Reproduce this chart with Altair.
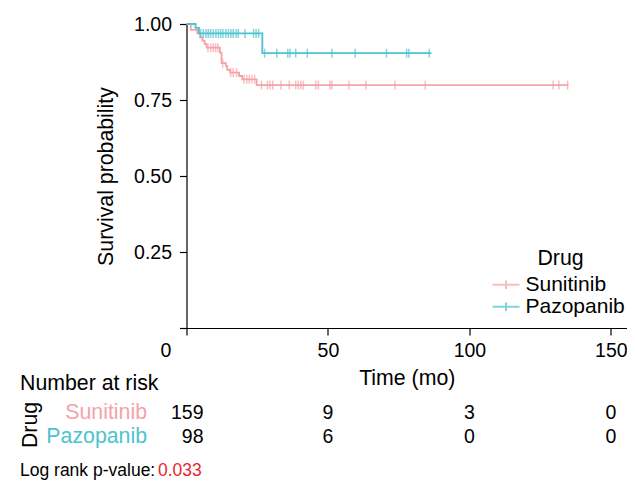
import altair as alt
import pandas as pd

# ---------------- data ----------------
groups = ["Sunitinib", "Pazopanib"]
colors = ["#F5A3A8", "#4DC3CE"]

suni_time = [0, 1.5, 3.8, 4.8, 5.6, 6.4, 7.1, 11.8, 12.4, 13.9, 14.4, 15.4, 18.6, 19.7, 24.8, 135.0]
suni_surv = [1.0, 0.981, 0.969, 0.956, 0.945, 0.934, 0.922, 0.906, 0.871, 0.862, 0.849, 0.840, 0.829, 0.818, 0.799, 0.799]
suni_cens = [7.6, 8.6, 9.5, 10.3, 11.1, 12.8, 15.6, 16.5, 17.7, 20.3, 21.3, 22.2, 23.1, 24.1,
             26.5, 28.6, 29.5, 30.5, 33.4, 36.3, 38.6, 39.5, 40.4, 41.3, 45.7, 46.6, 50.7, 51.4,
             57.4, 63.4, 73.7, 84.4, 129.6, 131.6, 134.7]

pazo_time = [0, 3.2, 4.4, 26.8, 86.6]
pazo_surv = [1.0, 0.987, 0.969, 0.904, 0.904]
pazo_cens = [5.0, 5.9, 6.9, 7.7, 8.5, 9.4, 10.4, 11.3, 12.1, 12.9, 13.9, 14.8, 15.7, 16.5, 17.5,
             18.3, 20.7, 23.7, 24.6, 25.5, 27.6, 31.9, 35.8, 36.6, 38.6, 42.7, 51.4, 59.6, 70.7,
             77.8, 78.6, 85.8]

risk_times = [0, 50, 100, 150]
risk_suni = [159, 9, 3, 0]
risk_pazo = [98, 6, 0, 0]

x_ticks = [0, 50, 100, 150]
y_ticks = [0, 0.25, 0.5, 0.75, 1.0]
p_value = "0.033"

FONT = "Liberation Sans"
FS_NUM = 19.5   # tick labels and risk numbers
FS_TXT = 21.3   # titles and word labels
FS_LEG = 21
FS_P = 17.5


def surv_at(times, survs, t):
    s = survs[0]
    for ti, si in zip(times, survs):
        if ti <= t:
            s = si
    return s


curve_rows = []
for g, ts, ss in [(groups[0], suni_time, suni_surv), (groups[1], pazo_time, pazo_surv)]:
    for t, s in zip(ts, ss):
        curve_rows.append({"drug": g, "time": t, "surv": s})
curve_df = pd.DataFrame(curve_rows)

cens_rows = []
for g, cs, ts, ss in [(groups[0], suni_cens, suni_time, suni_surv),
                      (groups[1], pazo_cens, pazo_time, pazo_surv)]:
    for c in cs:
        cens_rows.append({"drug": g, "time": c, "surv": surv_at(ts, ss, c)})
cens_df = pd.DataFrame(cens_rows)

risk_rows = []
for g, vals in [(groups[0], risk_suni), (groups[1], risk_pazo)]:
    for t, n in zip(risk_times, vals):
        risk_rows.append({"drug": g, "time": t, "n": str(n)})
risk_df = pd.DataFrame(risk_rows)

# ---------------- scales / axes ----------------
x_scale = alt.Scale(domain=[0, 155.7], nice=False, zero=False, padding=0)
y_scale = alt.Scale(domain=[0, 1], nice=False, padding=0)
color_scale = alt.Scale(domain=groups, range=colors)

legend = alt.Legend(
    title="Drug", orient="none", legendX=309, legendY=224,
    titleFontSize=FS_TXT, titleFontWeight="normal", titleFont=FONT, titleColor="black",
    titleAnchor="middle", titlePadding=5,
    labelFontSize=FS_LEG, labelFont=FONT, labelColor="black", labelOffset=9,
    symbolType="M-2,0H2M0,-0.62V0.62", symbolSize=182, symbolStrokeWidth=2,
    rowPadding=0, padding=0,
)

x_axis = alt.Axis(values=x_ticks, labelFlush=False, labelPadding=6, titlePadding=8,
                  labelFontSize=FS_NUM, titleFontSize=FS_TXT,
                  labelOffset={"condition": {"test": "datum.value === 0", "value": -21}, "value": 0})
y_axis = alt.Axis(values=y_ticks, labelFlush=False, labelPadding=8, titlePadding=17,
                  labelFontSize=FS_NUM, titleFontSize=FS_TXT,
                  labelExpr="datum.value == 0 ? '' : format(datum.value, '.2f')")

lines = alt.Chart(curve_df).mark_line(interpolate="step-after", strokeWidth=1.8).encode(
    x=alt.X("time:Q", scale=x_scale, axis=x_axis, title="Time (mo)"),
    y=alt.Y("surv:Q", scale=y_scale, axis=y_axis, title="Survival probability"),
    color=alt.Color("drug:N", scale=color_scale, legend=legend),
)

ticks = alt.Chart(cens_df).mark_tick(orient="vertical", size=9, thickness=1.5).encode(
    x=alt.X("time:Q", scale=x_scale),
    y=alt.Y("surv:Q", scale=y_scale),
    color=alt.Color("drug:N", scale=color_scale, legend=legend),
)

# risk table numbers
row_y = {groups[0]: 389, groups[1]: 413}
risk_layers = []
for g in groups:
    first = alt.Chart(risk_df).transform_filter(
        (alt.datum.drug == g) & (alt.datum.time == 0)
    ).mark_text(align="right", baseline="middle", dx=17, font=FONT, fontSize=FS_NUM, color="black").encode(
        x=alt.X("time:Q", scale=x_scale), y=alt.value(row_y[g]), text="n:N")
    rest = alt.Chart(risk_df).transform_filter(
        (alt.datum.drug == g) & (alt.datum.time > 0)
    ).mark_text(align="center", baseline="middle", font=FONT, fontSize=FS_NUM, color="black").encode(
        x=alt.X("time:Q", scale=x_scale), y=alt.value(row_y[g]), text="n:N")
    risk_layers += [first, rest]


def label(txt, x, y, color="black", align="left", angle=0, size=FS_TXT):
    return alt.Chart(pd.DataFrame({"t": [txt]})).mark_text(
        align=align, baseline="middle", font=FONT, fontSize=size, color=color, angle=angle
    ).encode(x=alt.value(x), y=alt.value(y), text="t:N")


annotations = [
    label("Number at risk", -166.5, 360),
    label("Drug", -155.5, 401, align="center", angle=270),
    label(groups[0], -39.5, row_y[groups[0]], color=colors[0], align="right"),
    label(groups[1], -39.5, row_y[groups[1]], color=colors[1], align="right"),
    label("Log rank p-value:", -166.5, 447, size=FS_P),
    label(p_value, -28.5, 447, color="#E8262B", size=FS_P),
]

chart = alt.layer(lines, ticks, *risk_layers, *annotations).properties(
    width=440.5, height=304,
    autosize=alt.AutoSizeParams(type="none"),
    padding={"left": 178.5, "top": 16, "right": 0, "bottom": 154},
).configure_view(stroke=None).configure_axis(
    grid=False, domainColor="black", tickColor="black", labelColor="black", titleColor="black",
    labelFont=FONT, titleFont=FONT, titleFontWeight="normal",
    tickSize=7, domainWidth=1.2, tickWidth=1.2,
)

chart.save("out.html", embed_options={"renderer": "svg", "actions": False})
